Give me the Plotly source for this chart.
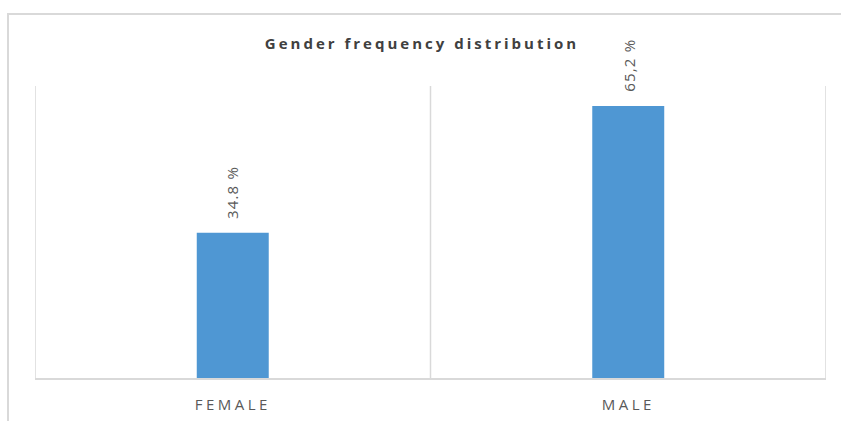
import plotly.graph_objects as go

categories = ["FEMALE", "MALE"]
values = [34.8, 65.2]
value_labels = ["34.8 %", "65,2 %"]
title_text = "Gender frequency distribution"

W, H = 841, 421
ML, MR, MT, MB = 35, 15, 86, 43
PW, PH = W - ML - MR, H - MT - MB

def px_to_paper_x(px):
    return (px - ML) / PW

def px_to_paper_y(py):
    return (H - MB - py) / PH

grid = "#d9d9d9"

fig = go.Figure()
fig.add_trace(go.Bar(
    x=categories, y=values, width=0.182,
    marker=dict(color="#4f97d3", line=dict(width=0)),
    hoverinfo="skip",
))

for c, v, t in zip(categories, values, value_labels):
    fig.add_annotation(
        x=c, y=v, text=f'<span style="letter-spacing:1.2px">{t}</span>', textangle=-90, showarrow=False,
        yanchor="bottom", xanchor="center", yshift=12,
        font=dict(family="Open Sans", size=15, color="#595959"),
    )

# category boundary gridlines
for xb in [-0.5, 0.5, 1.5]:
    fig.add_shape(type="line", xref="x", yref="paper", x0=xb, x1=xb, y0=0, y1=1,
                  line=dict(color=grid, width=1.5), layer="below")

# outer chart border (top & left)
fig.add_shape(type="path", xref="paper", yref="paper",
              path=f"M {px_to_paper_x(8)} {px_to_paper_y(430)} L {px_to_paper_x(8)} {px_to_paper_y(14)} L {px_to_paper_x(850)} {px_to_paper_y(14)}",
              line=dict(color=grid, width=2))

fig.update_layout(
    width=W, height=H,
    margin=dict(l=ML, r=MR, t=MT, b=MB, pad=0, autoexpand=False),
    paper_bgcolor="white", plot_bgcolor="white",
    showlegend=False,
    title=dict(
        text=f'<span style="letter-spacing:3px"><b>{title_text}</b></span>',
        x=px_to_paper_x(422), xref="paper", xanchor="center",
        y=1 - 44 / H, yanchor="middle",
        font=dict(family="Open Sans", size=15, color="#404040"),
        automargin=False,
    ),
    xaxis=dict(
        range=[-0.5, 1.5], showgrid=False, showline=True, linecolor=grid, linewidth=1.5,
        tickmode="array", tickvals=categories,
        ticktext=[f'<span style="letter-spacing:3.5px">{c}</span>' for c in categories],
        ticks="", tickfont=dict(family="Open Sans", size=15, color="#595959"),
        ticklabelstandoff=12, automargin=False,
        fixedrange=True,
    ),
    yaxis=dict(range=[0, 70], showgrid=False, showticklabels=False, zeroline=False,
               showline=False, fixedrange=True, automargin=False),
)

fig.write_html("out.html", config={"displayModeBar": False},
               post_script="document.body.style.margin='0';document.body.style.overflow='hidden';")
